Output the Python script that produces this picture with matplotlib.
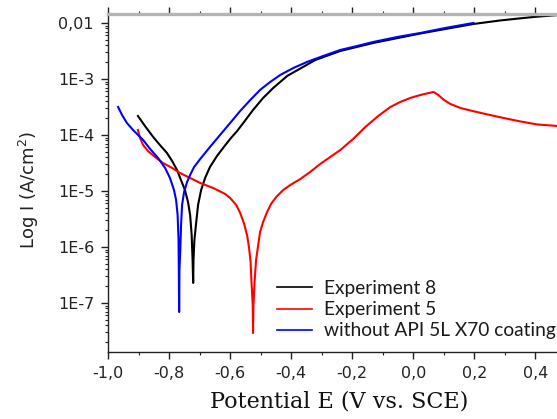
import matplotlib
matplotlib.use("Agg")
import matplotlib.pyplot as plt
import numpy as np
from matplotlib.ticker import FixedLocator, FixedFormatter, LogLocator, MultipleLocator

# Experiment 8: potential (V vs. SCE) and log10 current density (A/cm2)
exp8_E = [-0.902, -0.879, -0.852, -0.830, -0.807, -0.790, -0.774, -0.761, -0.748, -0.738,
          -0.731, -0.726, -0.723, -0.721, -0.720, -0.717, -0.711, -0.705, -0.695, -0.682,
          -0.666, -0.643, -0.623, -0.600, -0.577, -0.557, -0.525, -0.492, -0.459, -0.413,
          -0.370, -0.321, -0.239, -0.131, 0.023, 0.197, 0.285, 0.393, 0.500]
exp8_logI = [-3.661, -3.839, -4.036, -4.179, -4.321, -4.464, -4.625, -4.804, -4.982, -5.196,
             -5.429, -5.786, -6.232, -6.643, -6.232, -5.875, -5.554, -5.250, -4.982, -4.768,
             -4.571, -4.375, -4.232, -4.071, -3.929, -3.786, -3.554, -3.339, -3.161, -2.946,
             -2.813, -2.661, -2.500, -2.357, -2.188, -2.018, -1.955, -1.893, -1.848]

# Experiment 5
exp5_E = [-0.902, -0.895, -0.885, -0.869, -0.846, -0.820, -0.790, -0.764, -0.731, -0.698,
          -0.656, -0.616, -0.600, -0.580, -0.567, -0.554, -0.544, -0.538, -0.533, -0.530,
          -0.526, -0.525, -0.5236, -0.520, -0.515, -0.508, -0.502, -0.492, -0.479, -0.466,
          -0.449, -0.426, -0.403, -0.370, -0.338, -0.305, -0.272, -0.239, -0.197, -0.157,
          -0.115, -0.075, -0.043, -0.010, 0.023, 0.066, 0.082, 0.098, 0.121, 0.154,
          0.187, 0.236, 0.295, 0.351, 0.407, 0.472, 0.500]
exp5_logI = [-3.911, -4.054, -4.179, -4.286, -4.393, -4.500, -4.589, -4.679, -4.768, -4.857,
             -4.946, -5.054, -5.125, -5.250, -5.393, -5.589, -5.804, -6.018, -6.268, -6.625,
             -7.036, -7.536, -7.036, -6.625, -6.232, -5.964, -5.732, -5.554, -5.375, -5.232,
             -5.107, -4.982, -4.893, -4.786, -4.661, -4.518, -4.393, -4.268, -4.071, -3.857,
             -3.661, -3.500, -3.411, -3.339, -3.286, -3.232, -3.286, -3.366, -3.446, -3.518,
             -3.563, -3.625, -3.696, -3.759, -3.813, -3.839, -3.848]

# bare steel, no coating
bare_E = [-0.967, -0.954, -0.938, -0.918, -0.885, -0.862, -0.836, -0.813, -0.797, -0.784,
          -0.777, -0.772, -0.769, -0.768, -0.767, -0.766, -0.7633, -0.7607, -0.7574, -0.7508,
          -0.741, -0.731, -0.718, -0.698, -0.666, -0.633, -0.600, -0.567, -0.534, -0.502,
          -0.469, -0.436, -0.393, -0.348, -0.295, -0.239, -0.184, -0.131, -0.052, 0.023,
          0.105, 0.197]
bare_logI = [-3.500, -3.643, -3.786, -3.911, -4.089, -4.250, -4.411, -4.589, -4.768, -4.982,
             -5.161, -5.429, -5.875, -6.411, -7.161, -6.411, -6.054, -5.607, -5.250, -5.018,
             -4.839, -4.714, -4.571, -4.429, -4.214, -4.000, -3.786, -3.571, -3.375, -3.196,
             -3.054, -2.929, -2.804, -2.696, -2.589, -2.482, -2.411, -2.339, -2.250, -2.179,
             -2.089, -2.000]

x_ticks = [-1.0, -0.8, -0.6, -0.4, -0.2, 0.0, 0.2, 0.4]
x_labels = ["-1,0", "-0,8", "-0,6", "-0,4", "-0,2", "0,0", "0,2", "0,4"]
y_ticks = [1e-2, 1e-3, 1e-4, 1e-5, 1e-6, 1e-7]
y_labels = ["0,01", "1E-3", "1E-4", "1E-5", "1E-6", "1E-7"]

W, H = 557, 419
fig = plt.figure(figsize=(W / 100, H / 100), dpi=100)
left, right, top, bottom = 108, 566, 14, 352
ax = fig.add_axes([left / W, 1 - bottom / H, (right - left) / W, (bottom - top) / H])


def px_to_axes(px, py):
    return (px - left) / (right - left), 1 - (py - top) / (bottom - top)


ax.plot(exp8_E, 10 ** np.array(exp8_logI), color="black", lw=1.5, label="Experiment 8")
ax.plot(exp5_E, 10 ** np.array(exp5_logI), color="red", lw=1.5, label="Experiment 5")
ax.plot(bare_E, 10 ** np.array(bare_logI), color="blue", lw=1.5,
        label="without API 5L X70 coating")

ax.set_yscale("log")
ax.set_xlim(-1.0, 0.5)
ax.set_ylim(10 ** -7.875, 10 ** -1.84)

ax.xaxis.set_major_locator(FixedLocator(x_ticks))
ax.xaxis.set_major_formatter(FixedFormatter(x_labels))
ax.xaxis.set_minor_locator(MultipleLocator(0.1))
ax.yaxis.set_major_locator(FixedLocator(y_ticks))
ax.yaxis.set_major_formatter(FixedFormatter(y_labels))
ax.yaxis.set_minor_locator(LogLocator(base=10, subs=np.arange(2, 10), numticks=20))

for s in ["left", "bottom"]:
    ax.spines[s].set_color("#222222")
    ax.spines[s].set_linewidth(1.0)
ax.spines["right"].set_visible(False)
ax.spines["top"].set_color("#b4b4b4")
ax.spines["top"].set_linewidth(2.4)

ax.tick_params(which="both", direction="out", colors="#222222", labelcolor="#222222")
ax.tick_params(which="major", length=5, width=1.0, labelsize=11.5)
ax.tick_params(axis="y", which="major", pad=5)
ax.tick_params(axis="x", which="major", pad=5)
ax.tick_params(which="minor", length=2.5, width=0.8)
ax.tick_params(axis="x", which="both", top=True)
for lab in ax.get_xticklabels() + ax.get_yticklabels():
    lab.set_family("DejaVu Sans")

ax.set_xlabel("Potential E (V vs. SCE)", family="DejaVu Serif", fontsize=16,
              color="#111111", va="center")
ax.xaxis.set_label_coords(*px_to_axes(339, 401))
ax.set_ylabel("Log I (A/cm$^2$)", family="DejaVu Sans", fontsize=13, color="#222222",
              va="center", ha="center")
ax.yaxis.set_label_coords(*px_to_axes(29, 190))

leg = ax.legend(loc="upper left", bbox_to_anchor=px_to_axes(277, 280),
                frameon=False, prop={"family": "Lato", "size": 13.8},
                handlelength=1.85, handletextpad=0.6, labelspacing=0.22,
                borderaxespad=0, borderpad=0)
for t in leg.get_texts():
    t.set_color("#1a1a1a")
for h in leg.get_lines():
    h.set_linewidth(1.2)

fig.savefig("out.png", dpi=100)
